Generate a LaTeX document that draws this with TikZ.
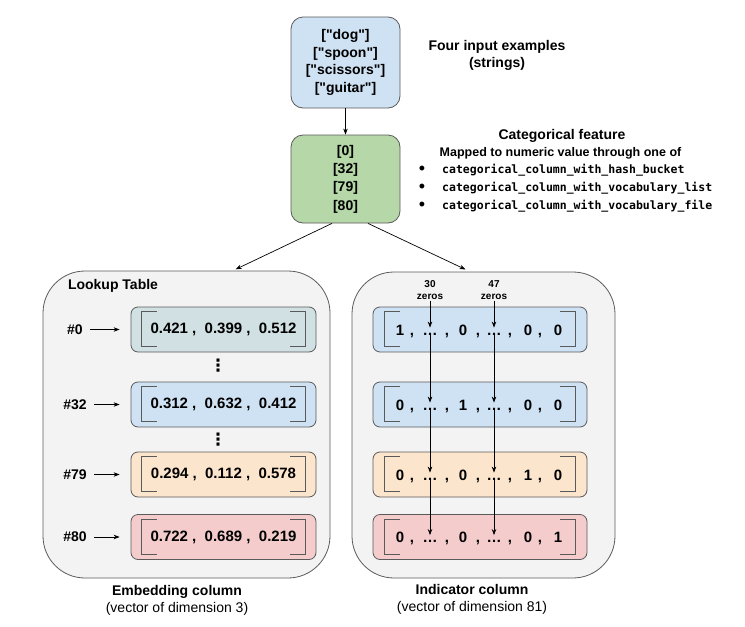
\documentclass[tikz,border=0pt]{standalone}
\usepackage{fontspec}
\setmainfont{Liberation Sans}
\setmonofont{DejaVu Sans Mono}
\newfontfamily\symfont{DejaVu Sans}
\usetikzlibrary{arrows.meta,calc}

\definecolor{inblue}{HTML}{CFE2F3}
\definecolor{catgreen}{HTML}{B6D7A8}
\definecolor{rowgray}{HTML}{D0E0E3}
\definecolor{rowpeach}{HTML}{FCE5CD}
\definecolor{rowpink}{HTML}{F4CCCC}
\definecolor{panel}{HTML}{F3F3F3}
\definecolor{edge}{HTML}{5A5A5A}

\newcommand\qt[1]{[\textquotedbl#1\textquotedbl]}

\begin{document}
\begin{tikzpicture}[x=1pt,y=-1pt,
  >={Stealth[length=6pt,width=4.5pt]},
  txt/.style={font=\fontsize{14pt}{17pt}\selectfont\bfseries,align=center,inner sep=1pt},
  box/.style={draw=edge,line width=0.8pt,rounded corners=12pt,minimum width=109pt,
    align=center,font=\fontsize{14pt}{17.5pt}\selectfont\bfseries},
  panelbox/.style={draw=edge,line width=0.8pt,fill=panel,rounded corners=42pt},
  row/.style={draw=edge,line width=0.8pt,rounded corners=7pt,minimum height=45pt,inner sep=0pt},
  bracket/.style={draw=edge,line width=0.8pt},
  entry/.style={anchor=base,inner sep=0pt,font=\fontsize{15pt}{18pt}\selectfont\bfseries},
  link/.style={->,line width=0.7pt}]
\useasboundingbox (0,0) rectangle (745,627);

% input strings and categorical ids
\node[box,fill=inblue,minimum height=91pt] (inp) at (345.5,62.5)
  {\qt{dog}\\\qt{spoon}\\\qt{scissors}\\\qt{guitar}};
\node[txt] (inplbl) at (497,55.5) {Four input examples\\(strings)};

\node[box,fill=catgreen,minimum height=88pt,font=\fontsize{14pt}{18.3pt}\selectfont\bfseries]
  (cat) at (345.5,179) {[0]\\{}[32]\\{}[79]\\{}[80]};
\node[txt] (cathead) at (562,136) {Categorical feature};
\node[txt,font=\fontsize{12.5pt}{15pt}\selectfont\bfseries] (catsub) at (560.5,153)
  {Mapped to numeric value through one of};
\foreach \y/\t [count=\k] in {170/hash\_bucket,188/vocabulary\_list,206/vocabulary\_file} {
  \node[inner sep=0pt,font=\fontsize{18pt}{18pt}\selectfont] (bul\k) at (422,\y) {\textbullet};
  \node[anchor=west,inner sep=0pt,font=\fontsize{11.5pt}{14pt}\selectfont\ttfamily\bfseries]
    (fn\k) at (442,\y) {categorical\_column\_with\_\t};
}

\draw[link] (inp) -- (cat);

% the two columns
\node[panelbox,minimum width=287pt,minimum height=307pt] (emb) at (186.5,424.5) {};
\node[panelbox,minimum width=263pt,minimum height=306pt] (ind) at (483.5,425) {};

\draw[link,shorten >=3pt] ([xshift=-13.5pt]cat.south) -- ([xshift=46.5pt]emb.north);
\draw[link,shorten >=5pt] ([xshift=22.5pt]cat.south) -- ([xshift=-13.5pt]ind.north);

\node[txt] (lookup) at (113,286) {Lookup Table};

% embedding rows
\foreach \n/\y/\c/\v in {0/329.5/rowgray/{0.421 ,\ \ 0.399 ,\ \ 0.512},
                         32/404.5/inblue/{0.312 ,\ \ 0.632 ,\ \ 0.412},
                         79/474.5/rowpeach/{0.294 ,\ \ 0.112 ,\ \ 0.578},
                         80/537/rowpink/{0.722 ,\ \ 0.689 ,\ \ 0.219}} {
  \node[row,fill=\c,minimum width=185pt,font=\fontsize{15pt}{18pt}\selectfont\bfseries]
    (e\n) at (223.5,\y) {\v};
  \draw[bracket] ($(e\n.north west)+(26,5)$) -- ++(-15,0) -- ++(0,35) -- ++(15,0);
  \draw[bracket] ($(e\n.north east)+(-26,5)$) -- ++(15,0) -- ++(0,35) -- ++(-15,0);
  \node[txt,inner sep=2pt] (l\n) at (75,\y) {\#\n};
  \draw[link,shorten <=5pt,shorten >=11pt] (l\n) -- (e\n);
}
\node[txt,font=\fontsize{17pt}{18pt}\selectfont\symfont\bfseries] (vd1) at (218,366) {⋮};
\node[txt,font=\fontsize{17pt}{18pt}\selectfont\symfont\bfseries] (vd2) at (218,440) {⋮};

% indicator rows
\foreach \n/\y/\c/\a/\b/\d/\e in {0/329.5/inblue/1/0/0/0,
                                 32/404.5/inblue/0/1/0/0,
                                 79/474.5/rowpeach/0/0/1/0,
                                 80/537/rowpink/0/0/0/1} {
  \node[row,fill=\c,minimum width=214pt] (i\n) at (480,\y) {};
  \draw[bracket] ($(i\n.north west)+(27,5)$) -- ++(-15,0) -- ++(0,35) -- ++(15,0);
  \draw[bracket] ($(i\n.north east)+(-27,5)$) -- ++(15,0) -- ++(0,35) -- ++(-15,0);
  \node[entry] at (400,\y+5.5) {\a};
  \node[entry] (p\n) at (430,\y+5.5) {\ldots};
  \node[entry] at (463,\y+5.5) {\b};
  \node[entry] (q\n) at (494,\y+5.5) {\ldots};
  \node[entry] at (528,\y+5.5) {\d};
  \node[entry] at (558,\y+5.5) {\e};
  \foreach \x in {412,447,478,510,540}
    \node[entry] at (\x,\y+5.5) {,};
}

\node[txt,font=\fontsize{10pt}{12pt}\selectfont\bfseries] (z30) at (430,290) {30\\zeros};
\node[txt,font=\fontsize{10pt}{12pt}\selectfont\bfseries] (z47) at (494,290) {47\\zeros};

\draw[link,shorten >=5pt] (z30) -- (p0);
\draw[link,shorten >=5pt] (p0) -- (p32);
\draw[link,shorten >=5pt] (p32) -- (p79);
\draw[link,shorten >=5pt] (p79) -- (p80);
\draw[link,shorten >=5pt] (z47) -- (q0);
\draw[link,shorten >=5pt] (q0) -- (q32);
\draw[link,shorten >=5pt] (q32) -- (q79);
\draw[link,shorten >=5pt] (q79) -- (q80);

% captions
\node[txt] (embcap) at (177,600.5)
  {Embedding column\\{\mdseries (vector of dimension 3)}};
\node[txt] (indcap) at (472,599)
  {Indicator column\\{\mdseries (vector of dimension 81)}};
\end{tikzpicture}
\end{document}
